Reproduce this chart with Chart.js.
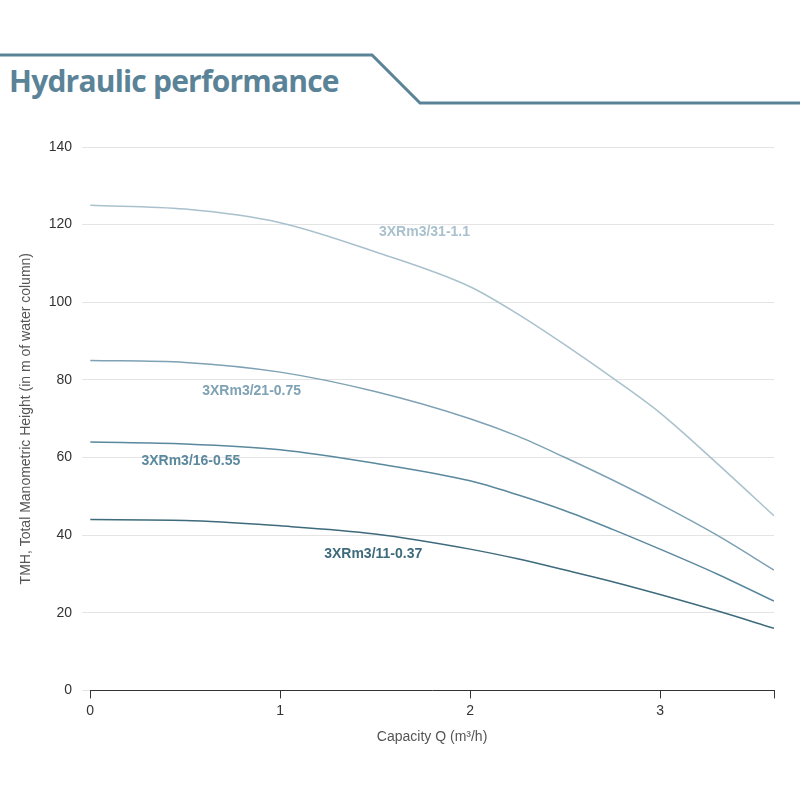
<!DOCTYPE html>
<html>
<head>
<meta charset="utf-8">
<title>Hydraulic performance</title>
<style>
  body { margin: 0; width: 800px; height: 800px; background: #fff; font-family: "Open Sans", sans-serif; position: relative; overflow: hidden; }
  #head { position: absolute; left: 0; top: 0; }
  #title { position: absolute; left: 9px; top: 60px; margin: 0; font-size: 30px; font-weight: 700; color: #5b8398; letter-spacing: -0.8px; }
  #wrap { position: absolute; left: 0; top: 110px; width: 800px; height: 690px; }
</style>
</head>
<body>
<svg id="head" width="800" height="110">
  <polyline points="0,55 372,55 420,103 800,103" fill="none" stroke="#5b8398" stroke-width="3"/>
</svg>
<h1 id="title">Hydraulic performance</h1>
<div id="wrap"><canvas id="chart"></canvas></div>
<script src="https://cdn.jsdelivr.net/npm/chart.js"></script>
<script>
const flow = [0, 0.5, 1, 1.5, 2, 2.25, 2.5, 2.75, 3, 3.3, 3.6];
const names = ['3XRm3/31-1.1', '3XRm3/21-0.75', '3XRm3/16-0.55', '3XRm3/11-0.37'];
const head31 = [125, 124, 120.5, 113, 104, 97, 89, 80.5, 71.5, 58.5, 45];
const head21 = [85, 84.5, 82, 77, 70, 65.5, 60, 54.2, 48, 40, 31];
const head16 = [64, 63.5, 62, 58.5, 54, 50.4, 46.3, 41.5, 36.4, 30, 23];
const head11 = [44, 43.8, 42.4, 40.3, 36.4, 33.9, 31, 28, 24.7, 20.5, 16];
const colors = ['#a9c1cd', '#7ea2b4', '#5a889d', '#3e6b7c'];
// label anchor in data coords (centre)
const labelX = [1.76, 0.85, 0.53, 1.49];
const labelY = [118, 77, 59, 35];

const series = [head31, head21, head16, head11];

const curveLabels = {
  id: 'curveLabels',
  afterDatasetsDraw(chart) {
    const c = chart.ctx, xs = chart.scales.x, ys = chart.scales.y;
    c.save();
    c.font = 'bold 14px Arial';
    c.textAlign = 'center';
    c.textBaseline = 'middle';
    names.forEach((n, i) => {
      c.fillStyle = colors[i];
      c.fillText(n, xs.getPixelForValue(labelX[i]), ys.getPixelForValue(labelY[i]));
    });
    c.restore();
  }
};

new Chart(document.getElementById('chart'), {
  type: 'line',
  data: {
    datasets: series.map((s, i) => ({
      label: names[i],
      data: flow.map((q, j) => ({ x: q, y: s[j] })),
      borderColor: colors[i],
      borderWidth: 1.5,
      pointRadius: 0,
      cubicInterpolationMode: 'monotone',
      fill: false
    }))
  },
  options: {
    responsive: true,
    maintainAspectRatio: false,
    animation: false,
    layout: { padding: { top: 37, right: 26, left: 14, bottom: 50 } },
    plugins: { legend: { display: false }, tooltip: { enabled: false } },
    scales: {
      x: {
        type: 'linear', min: 0, max: 3.6,
        ticks: { stepSize: 1, color: '#333', font: { size: 14, family: 'Arial' }, padding: 4, callback: v => Number.isInteger(v) ? v : '' },
        grid: { display: true, drawOnChartArea: false, drawTicks: true, tickLength: 8, color: '#333' },
        border: { color: '#333', width: 1 },
        title: { display: true, text: 'Capacity Q (m³/h)', color: '#555', font: { size: 14, family: 'Arial' }, padding: { top: 6 } }
      },
      y: {
        min: 0, max: 140,
        ticks: { stepSize: 20, color: '#333', font: { size: 14, family: 'Arial' }, padding: 10 },
        grid: { color: '#e4e4e4', drawTicks: true, tickLength: 8 },
        border: { display: false },
        title: { display: true, text: 'TMH, Total Manometric Height (in m of water column)', color: '#555', font: { size: 14, family: 'Arial' } }
      }
    }
  },
  plugins: [curveLabels]
});
</script>
</body>
</html>
